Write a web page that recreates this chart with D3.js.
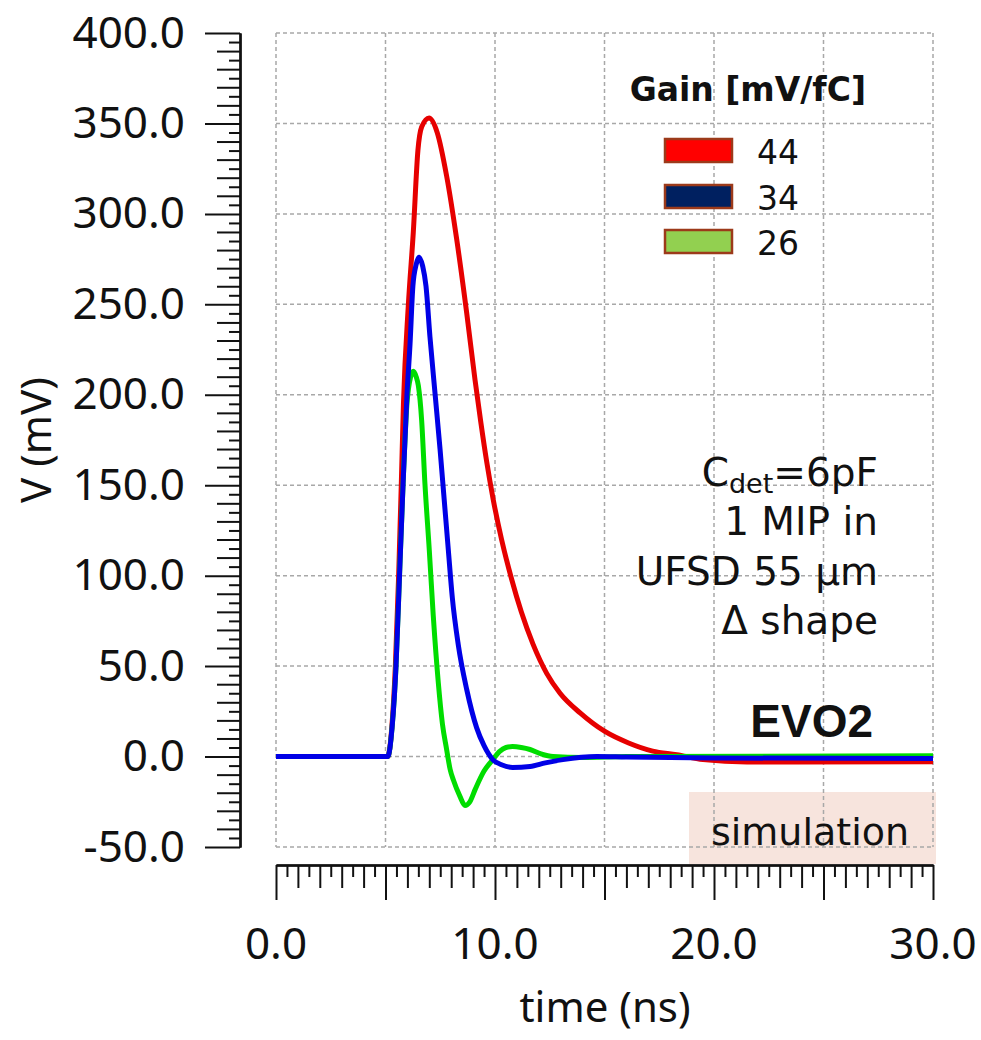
<!DOCTYPE html>
<html>
<head>
<meta charset="utf-8">
<script src="https://cdn.jsdelivr.net/npm/d3@7"></script>
<style>
body { margin: 0; background: #fff; }
</style>
</head>
<body>
<div id="chart"></div>
<script>
// legend / series labels
const gainLabels = ["44", "34", "26"];
const lineColors = ["#e60000", "#0000e6", "#00dd00"];
const legendColors = ["#ff0000", "#002060", "#92d050"];

// tick labels
const yMajorTicks = [-50, 0, 50, 100, 150, 200, 250, 300, 350, 400];
const xLabelTicks = [0, 10, 20, 30];

// note text
const noteLines = ["1 MIP in", "UFSD 55 µm", "Δ shape"];

// waveforms, [time ns, voltage mV]
const gain44 = [
    [0, 0], [5.1, 0], [5.3, 18], [5.45, 50], [5.6, 100], [5.72, 150], [5.82, 195],
    [6.04, 249], [6.27, 290], [6.48, 335], [6.65, 348], [6.99, 353], [7.36, 345],
    [7.79, 321], [8.25, 286], [8.71, 245], [9.09, 208], [9.35, 185], [9.62, 163],
    [9.92, 142], [10.3, 120], [10.76, 98], [11.2, 80], [11.74, 62], [12.36, 46],
    [12.97, 35], [13.9, 24], [15.0, 14], [16.1, 7.5], [17.2, 3], [18.3, 1],
    [19.5, -1.7], [21.5, -3], [30, -2.9]
];
const gain34 = [
    [0, 0], [5.1, 0], [5.3, 16], [5.48, 50], [5.64, 100], [5.8, 150], [5.98, 200],
    [6.12, 228], [6.25, 260], [6.4, 272], [6.53, 276], [6.7, 271], [6.85, 260],
    [7.03, 232], [7.26, 201], [7.49, 170], [7.66, 145], [7.87, 114], [8.05, 88],
    [8.32, 62], [8.71, 37], [9.16, 16], [9.5, 6], [9.9, -1.7], [10.3, -4.5],
    [10.8, -6], [11.6, -5.5], [12.3, -3.5], [13.1, -1.7], [14.65, 0], [16, -0.3],
    [20, -0.8], [30, -1.1]
];
const gain26 = [
    [0, 0], [5.1, 0], [5.3, 16], [5.48, 50], [5.64, 100], [5.8, 150], [5.98, 195],
    [6.15, 210], [6.27, 213], [6.4, 210], [6.5, 205], [6.65, 186], [6.8, 151],
    [7.0, 114], [7.18, 78], [7.41, 41], [7.6, 18], [7.79, 4], [7.95, -7],
    [8.1, -13], [8.4, -22], [8.63, -27], [8.85, -25], [9.1, -18], [9.5, -8],
    [9.9, -1.7], [10.2, 2.7], [10.5, 5], [10.8, 5.5], [11.2, 5], [11.6, 3.9],
    [12.1, 1.5], [12.65, 0], [14, -0.5], [16, 0], [30, 0.5]
];

const width = 981;
const height = 1040;
const plotLeft = 276, plotRight = 933, plotTop = 33, plotBottom = 847;
const yAxisX = 240;
const xAxisY = 865;

const fmt = d => d3.format(".1f")(d).replace("\u2212", "-");

const svg = d3.select("#chart")
    .append("svg")
    .attr("width", width)
    .attr("height", height);

const x = d3.scaleLinear().domain([0, 30]).range([plotLeft, plotRight]);
const y = d3.scaleLinear().domain([-50, 400]).range([plotBottom, plotTop]);

// "simulation" box (under the grid)
svg.append("rect")
    .attr("x", 689)
    .attr("y", 792)
    .attr("width", 247)
    .attr("height", 72)
    .attr("fill", "#f7e4dd");

// grid
const grid = svg.append("g")
    .attr("stroke", "#a8a8a8")
    .attr("stroke-width", 1.5)
    .attr("stroke-dasharray", "4,3");

grid.selectAll("line.v")
    .data(d3.range(0, 31, 5))
    .join("line")
    .attr("class", "v")
    .attr("x1", d => x(d))
    .attr("x2", d => x(d))
    .attr("y1", plotTop)
    .attr("y2", plotBottom);

grid.selectAll("line.h")
    .data(yMajorTicks)
    .join("line")
    .attr("class", "h")
    .attr("x1", plotLeft)
    .attr("x2", plotRight)
    .attr("y1", d => y(d))
    .attr("y2", d => y(d));

// curves
const line = d3.line()
    .x(d => x(d[0]))
    .y(d => y(d[1]))
    .curve(d3.curveMonotoneX);

const drawOrder = [[gain44, 0], [gain26, 2], [gain34, 1]];
drawOrder.forEach(([data, i]) => {
    svg.append("path")
        .datum(data)
        .attr("d", line)
        .attr("fill", "none")
        .attr("stroke", lineColors[i])
        .attr("stroke-width", 5)
        .attr("stroke-linejoin", "round");
});

// y axis: major / medium / minor ticks
function styleAxis(g) {
    g.select(".domain").attr("stroke", "#111").attr("stroke-width", 2);
    g.selectAll(".tick line").attr("stroke", "#111").attr("stroke-width", 2);
}

const yVals = d3.range(-50, 401, 5);
svg.append("g")
    .attr("transform", "translate(" + yAxisX + ",0)")
    .call(d3.axisLeft(y).tickValues(yVals.filter(v => v % 10 !== 0)).tickSize(11).tickSizeOuter(0).tickFormat(""))
    .call(styleAxis);
svg.append("g")
    .attr("transform", "translate(" + yAxisX + ",0)")
    .call(d3.axisLeft(y).tickValues(yVals.filter(v => v % 10 === 0 && v % 50 !== 0)).tickSize(23).tickSizeOuter(0).tickFormat(""))
    .call(styleAxis);
svg.append("g")
    .attr("transform", "translate(" + yAxisX + ",0)")
    .call(d3.axisLeft(y).tickValues(yMajorTicks).tickSize(35).tickSizeOuter(0).tickPadding(20).tickFormat(fmt))
    .call(styleAxis)
    .selectAll("text")
    .attr("font-family", "Noto Sans")
    .attr("font-size", 44)
    .attr("fill", "#111");

// x axis
const xVals = d3.range(0, 30.01, 0.5);
const xAxisG = svg.append("g").attr("transform", "translate(0," + xAxisY + ")");
xAxisG.append("g")
    .call(d3.axisBottom(x).tickValues(xVals.filter(v => v % 1 !== 0)).tickSize(12).tickSizeOuter(0).tickFormat(""))
    .call(styleAxis);
xAxisG.append("g")
    .call(d3.axisBottom(x).tickValues(xVals.filter(v => v % 1 === 0 && v % 5 !== 0)).tickSize(23).tickSizeOuter(0).tickFormat(""))
    .call(styleAxis);
xAxisG.append("g")
    .call(d3.axisBottom(x).tickValues(d3.range(0, 31, 5)).tickSize(35).tickSizeOuter(0).tickFormat(""))
    .call(styleAxis);

svg.append("g")
    .selectAll("text")
    .data(xLabelTicks)
    .join("text")
    .attr("x", d => x(d))
    .attr("y", 959)
    .attr("text-anchor", "middle")
    .attr("font-family", "Noto Sans")
    .attr("font-size", 44)
    .attr("fill", "#111")
    .text(fmt);

// axis titles
svg.append("text")
    .attr("x", 605)
    .attr("y", 1022)
    .attr("text-anchor", "middle")
    .attr("font-family", "Noto Sans")
    .attr("font-size", 42)
    .attr("fill", "#111")
    .text("time (ns)");

svg.append("text")
    .attr("transform", "translate(51,440) rotate(-90)")
    .attr("text-anchor", "middle")
    .attr("font-family", "Noto Sans")
    .attr("font-size", 42)
    .attr("fill", "#111")
    .text("V (mV)");

// legend
svg.append("text")
    .attr("x", 866)
    .attr("y", 101)
    .attr("text-anchor", "end")
    .attr("font-family", "DejaVu Sans")
    .attr("font-weight", "bold")
    .attr("font-size", 33)
    .attr("fill", "#111")
    .text("Gain [mV/fC]");

const legendRowY = [139, 185, 230];
gainLabels.forEach((g, i) => {
    svg.append("rect")
        .attr("x", 665)
        .attr("y", legendRowY[i])
        .attr("width", 67)
        .attr("height", 23)
        .attr("fill", legendColors[i])
        .attr("stroke", "#9c3a1a")
        .attr("stroke-width", 2.5);
    svg.append("text")
        .attr("x", 757)
        .attr("y", legendRowY[i] + 25)
        .attr("font-family", "DejaVu Sans")
        .attr("font-size", 33)
        .attr("fill", "#111")
        .text(g);
});

// note block
const note = svg.append("text")
    .attr("x", 878)
    .attr("y", 486)
    .attr("text-anchor", "end")
    .attr("font-family", "DejaVu Sans")
    .attr("font-size", 39)
    .attr("fill", "#111");
note.append("tspan").text("C");
note.append("tspan").attr("font-size", 27).attr("dy", 7).text("det");
note.append("tspan").attr("dy", -7).text("=6pF");

svg.append("g")
    .selectAll("text")
    .data(noteLines)
    .join("text")
    .attr("x", 878)
    .attr("y", (d, i) => 535 + i * 49.5)
    .attr("text-anchor", "end")
    .attr("font-family", "DejaVu Sans")
    .attr("font-size", 39)
    .attr("fill", "#111")
    .text(d => d);

svg.append("text")
    .attr("x", 873)
    .attr("y", 737)
    .attr("text-anchor", "end")
    .attr("font-family", "Liberation Sans")
    .attr("font-weight", "bold")
    .attr("font-size", 46)
    .attr("fill", "#111")
    .text("EVO2");

svg.append("text")
    .attr("x", 810)
    .attr("y", 845)
    .attr("text-anchor", "middle")
    .attr("font-family", "DejaVu Sans")
    .attr("font-size", 38)
    .attr("fill", "#111")
    .text("simulation");
</script>
</body>
</html>
